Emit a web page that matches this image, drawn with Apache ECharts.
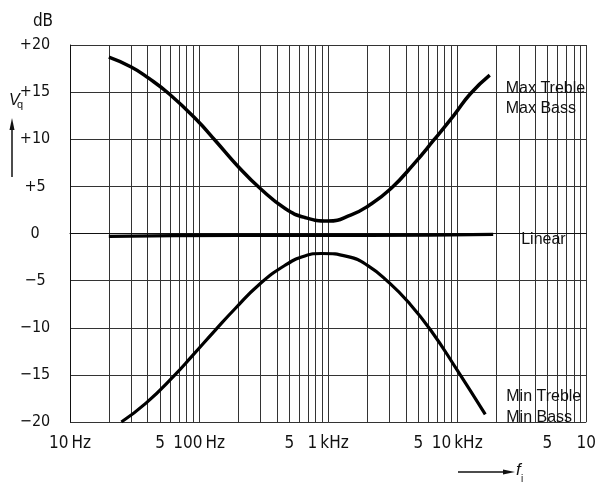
<!DOCTYPE html>
<html><head><meta charset="utf-8">
<script src="https://cdn.jsdelivr.net/npm/echarts@6/dist/echarts.min.js"></script>
<style>html,body{margin:0;padding:0;background:#fff}#c{width:599px;height:484px}</style>
</head><body><div id="c"></div>
<script>
// Frequencies in Hz, gains in dB
const maxFreq = [20, 29.8, 40.7, 58.8, 94.4, 134, 203, 298, 464, 660, 1000, 1510, 2030, 3070, 4640, 6620, 9450, 12650, 17870];
const maxGain = [18.71, 17.67, 16.48, 14.8, 12.15, 9.84, 7.03, 4.77, 2.65, 1.7, 1.32, 1.98, 2.9, 4.78, 7.42, 9.95, 12.56, 14.83, 16.8];
const linFreq = [20, 200, 2000, 19000];
const linGain = [-0.3, -0.2, -0.2, -0.1];
const minFreq = [25, 38.8, 64.2, 88.9, 134.2, 191.5, 289.8, 464, 660, 888, 1425, 2030, 2965, 4140, 6240, 10000, 16500];
const minGain = [-20.0, -18.0, -15.08, -12.96, -10.22, -7.93, -5.46, -3.37, -2.38, -2.12, -2.45, -3.4, -5.21, -7.22, -10.26, -14.5, -19.2];
const labelFreqs = [10, 50, 100, 500, 1000, 5000, 10000, 50000, 100000];
const labelTexts = ['10\u2009Hz', '5', '100\u2009Hz', '5', '1\u2009kHz', '5', '10\u2009kHz', '5', '10'];
const seriesNames = ['Max Treble\nMax Bass', 'Linear', 'Min Treble\nMin Bass'];

const gridFreqs = [];
for (let d = 10; d < 100000; d *= 10) for (let k = 1; k <= 9; k++) gridFreqs.push(d * k);
gridFreqs.push(100000);

const zip = (a, b) => a.map((v, i) => [v, b[i]]);
const narrow = "'Liberation Sans Narrow','DejaVu Sans Condensed','Liberation Sans',sans-serif";
const sans = "'Liberation Sans',Arial,sans-serif";
const gridColor = '#333';

const chart = echarts.init(document.getElementById('c'), null, {renderer: 'canvas'});
const endLbl = (txt, off, lh) => ({
  show: true, formatter: txt, distance: 0, offset: off, align: 'left',
  color: '#111', fontFamily: sans, fontSize: 16, lineHeight: lh
});
chart.setOption({
  animation: false,
  backgroundColor: '#fff',
  grid: {left: 70, right: 9, top: 45, bottom: 62},
  xAxis: {
    type: 'log', logBase: 10, min: 10, max: 100000,
    axisLine: {show: true, lineStyle: {color: '#111', width: 1}},
    axisTick: {show: false, customValues: gridFreqs},
    splitLine: {show: true, lineStyle: {color: gridColor, width: 1}},
    axisLabel: {
      customValues: labelFreqs, margin: 13, color: '#111', fontFamily: narrow, fontSize: 17,
      showMinLabel: true, showMaxLabel: true,
      formatter: (v) => {
        let best = 0, bd = Infinity;
        labelFreqs.forEach((f, i) => { const d = Math.abs(Math.log10(v / f)); if (d < bd) { bd = d; best = i; } });
        return labelTexts[best];
      }
    }
  },
  yAxis: {
    type: 'value', min: -20, max: 20, interval: 5,
    name: 'dB', nameLocation: 'end', nameGap: 15,
    nameTextStyle: {color: '#111', fontFamily: narrow, fontSize: 17, align: 'center', padding: [0, 0, 0, -54]},
    axisLine: {show: true, lineStyle: {color: '#111', width: 1}},
    axisTick: {show: false},
    splitLine: {show: true, lineStyle: {color: gridColor, width: 1}},
    axisLabel: {
      align: 'center', margin: 35, color: '#111', fontFamily: narrow, fontSize: 16,
      formatter: (v) => v > 0 ? '+' + v : (v < 0 ? '\u2212' + Math.abs(v) : '0')
    }
  },
  series: [
    {type: 'line', name: 'max', data: zip(maxFreq, maxGain), smooth: 0.5, symbol: 'none',
     lineStyle: {color: '#000', width: 3.5}, endLabel: endLbl(seriesNames[0], [16, 23], 20)},
    {type: 'line', name: 'lin', data: zip(linFreq, linGain), smooth: true, symbol: 'none',
     lineStyle: {color: '#000', width: 3.2}, endLabel: endLbl(seriesNames[1], [28, 5], 20)},
    {type: 'line', name: 'min', data: zip(minFreq, minGain), smooth: 0.5, symbol: 'none',
     lineStyle: {color: '#000', width: 3.2}, endLabel: endLbl(seriesNames[2], [21, -7], 21)}
  ],
  graphic: [
    {type: 'text', left: 9, top: 93, style: {text: 'V', font: "italic 16px 'Liberation Sans'", fill: '#111'}},
    {type: 'text', left: 17, top: 99, style: {text: 'q', font: "11px 'Liberation Sans'", fill: '#111'}},
    {type: 'line', shape: {x1: 12, y1: 177, x2: 12, y2: 126}, style: {stroke: '#111', lineWidth: 1.5}},
    {type: 'polygon', shape: {points: [[12, 118], [9.5, 130], [14.5, 130]]}, style: {fill: '#111'}},
    {type: 'line', shape: {x1: 458, y1: 472, x2: 505, y2: 472}, style: {stroke: '#111', lineWidth: 1.5}},
    {type: 'polygon', shape: {points: [[515, 472], [503, 469.5], [503, 474.5]]}, style: {fill: '#111'}},
    {type: 'text', left: 516, top: 462, style: {text: 'f', font: "italic 17px 'Liberation Sans'", fill: '#111'}},
    {type: 'text', left: 521, top: 474, style: {text: 'i', font: "10px 'Liberation Sans'", fill: '#111'}}
  ]
});
</script>
</body></html>
